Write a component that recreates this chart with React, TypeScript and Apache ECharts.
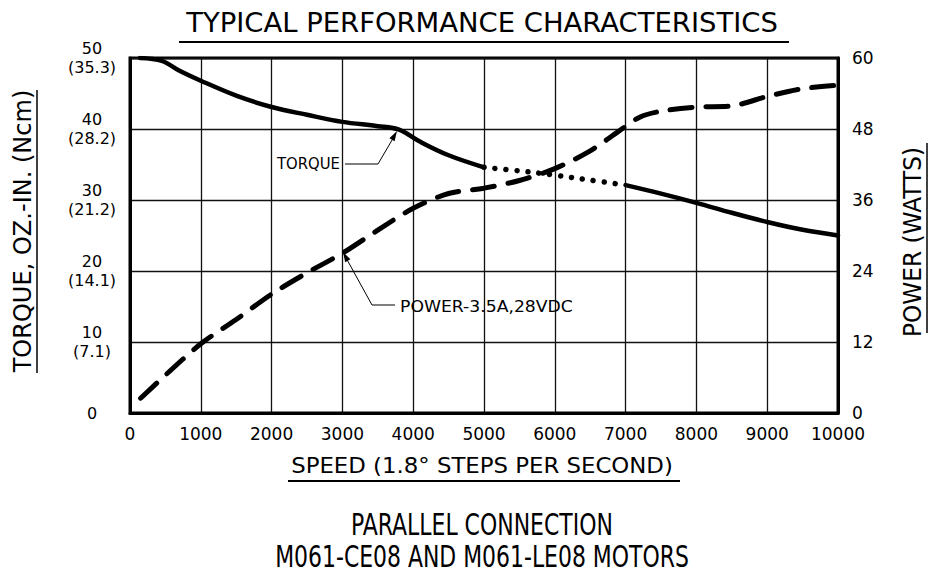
import React, { useEffect, useRef } from "react";
import * as echarts from "echarts";

// ---- data ----
const speedTicks = [0, 1000, 2000, 3000, 4000, 5000, 6000, 7000, 8000, 9000, 10000];
const torqueTicks = [0, 10, 20, 30, 40, 50];
const torqueNcmLabels = ["", "(7.1)", "(14.1)", "(21.2)", "(28.2)", "(35.3)"];
const powerTicks = [0, 12, 24, 36, 48, 60];

// torque (oz-in), solid part up to 5000
const torqueSpeedA = [140, 450, 700, 1000, 1500, 2000, 2500, 3000, 3500, 3800, 4100, 4500, 5000];
const torqueA = [50, 49.6, 48.2, 46.8, 44.7, 43.1, 42.0, 41.0, 40.4, 39.9, 38.2, 36.3, 34.6];
// torque, dotted part
const torqueSpeedB = [5000, 5500, 6000, 6500, 7000];
const torqueB = [34.6, 34.1, 33.5, 32.8, 32.1];
// torque, solid part after 7000
const torqueSpeedC = [7000, 7500, 8000, 8500, 9000, 9500, 10000];
const torqueC = [32.1, 30.9, 29.6, 28.2, 26.9, 25.8, 25.0];

// power (watts)
const powerSpeed = [150, 500, 1000, 1500, 2000, 2500, 3000, 3500, 4000, 4500, 5000, 5500, 6000, 6500, 6900, 7200, 7500, 8000, 8500, 9000, 9500, 10000];
const power = [2.5, 6.4, 11.7, 15.8, 20.1, 23.7, 27.0, 30.9, 34.6, 37.1, 38.0, 39.3, 41.3, 44.3, 47.6, 50.0, 51.0, 51.7, 51.9, 53.5, 54.8, 55.4];

const title = "TYPICAL PERFORMANCE CHARACTERISTICS";
const xName = "SPEED (1.8° STEPS PER SECOND)";
const yLeftName = "TORQUE, OZ.-IN. (Ncm)";
const yRightName = "POWER (WATTS)";
const footer1 = "PARALLEL CONNECTION";
const footer2 = "M061-CE08 AND M061-LE08 MOTORS";
const torqueLabel = "TORQUE";
const powerLabel = "POWER-3.5A,28VDC";

const zip = (xs: number[], ys: number[]) => xs.map((x, i) => [x, ys[i]]);

const SANS = "'DejaVu Sans', sans-serif";
const COND = "'DejaVu Sans Condensed', 'DejaVu Sans', sans-serif";

function measure(text: string, size: number, family: string, weight = "normal") {
  const c = document.createElement("canvas").getContext("2d")!;
  c.font = `${weight} ${size}px ${family}`;
  return c.measureText(text).width;
}

function fitText(
  text: string,
  size: number,
  family: string,
  target: number,
  x: number,
  y: number,
  opts: { rotation?: number; align?: string; weight?: string } = {}
) {
  const weight = opts.weight || "normal";
  const w = measure(text, size, family, weight);
  const align = opts.align || "center";
  return {
    type: "text",
    x,
    y,
    z: 100,
    rotation: opts.rotation || 0,
    scaleX: target / w,
    style: {
      text,
      fill: "#000",
      fontSize: size,
      fontFamily: family,
      fontWeight: weight,
      align,
      verticalAlign: "middle",
      textAlign: align,
      textVerticalAlign: "middle",
    },
  };
}

function line(x1: number, y1: number, x2: number, y2: number, w: number) {
  return {
    type: "line",
    z: 100,
    shape: { x1, y1, x2, y2 },
    style: { stroke: "#000", lineWidth: w },
  };
}

function arrowHead(tx: number, ty: number, fx: number, fy: number) {
  const dx = tx - fx;
  const dy = ty - fy;
  const L = Math.hypot(dx, dy);
  const ux = dx / L;
  const uy = dy / L;
  const bx = tx - ux * 10;
  const by = ty - uy * 10;
  const px = -uy * 3;
  const py = ux * 3;
  return {
    type: "polygon",
    z: 100,
    shape: { points: [[tx, ty], [bx + px, by + py], [bx - px, by - py]] },
    style: { fill: "#000" },
  };
}

export default function App() {
  const ref = useRef<HTMLDivElement>(null);

  useEffect(() => {
    if (!ref.current) return;
    const chart = echarts.init(ref.current, undefined, { renderer: "svg" });

    const graphic: any[] = [
      fitText(title, 26, SANS, 592, 482, 23),
      line(179, 42, 789, 42, 2),
      fitText(xName, 21, SANS, 382, 482, 466),
      line(288, 481, 680, 481, 2),
      fitText(footer1, 30, COND, 262, 482, 525),
      fitText(footer2, 30, COND, 414, 482, 557),
      fitText(yLeftName, 25, SANS, 283, 22, 231, { rotation: Math.PI / 2 }),
      line(37, 90, 37, 373, 1.5),
      fitText(yRightName, 25, SANS, 190, 913, 242, { rotation: Math.PI / 2 }),
      line(927, 143, 927, 333, 1.5),
      // torque annotation
      fitText(torqueLabel, 15, SANS, 63, 277, 164, { align: "left" }),
      { type: "polyline", z: 100, shape: { points: [[345, 164], [378, 164], [395, 135]] }, style: { stroke: "#000", lineWidth: 1, fill: null } },
      arrowHead(397, 131, 378, 164),
      // power annotation
      fitText(powerLabel, 16, SANS, 173, 400, 307, { align: "left" }),
      { type: "polyline", z: 100, shape: { points: [[395, 305], [372, 305], [345, 256]] }, style: { stroke: "#000", lineWidth: 1, fill: null } },
      arrowHead(343, 252, 372, 305),
    ];

    const option: any = {
      animation: false,
      backgroundColor: "#fff",
      grid: {
        left: 130,
        top: 58,
        width: 708,
        height: 355,
        show: true,
        borderColor: "#000",
        borderWidth: 3,
        backgroundColor: "transparent",
      },
      xAxis: {
        type: "value",
        min: speedTicks[0],
        max: speedTicks[speedTicks.length - 1],
        interval: 1000,
        axisLine: { show: true, lineStyle: { color: "#000", width: 3 } },
        axisTick: { show: false },
        splitLine: { show: true, lineStyle: { color: "#111", width: 1.3 } },
        axisLabel: {
          color: "#000",
          fontSize: 17,
          fontFamily: SANS,
          margin: 12,
          formatter: (v: number) => String(v),
        },
      },
      yAxis: [
        {
          type: "value",
          min: torqueTicks[0],
          max: torqueTicks[torqueTicks.length - 1],
          interval: 10,
          position: "left",
          axisLine: { show: true, lineStyle: { color: "#000", width: 3 } },
          axisTick: { show: false },
          splitLine: { show: true, lineStyle: { color: "#111", width: 1.3 } },
          axisLabel: {
            color: "#000",
            fontSize: 16,
            fontFamily: SANS,
            align: "center",
            margin: 38,
            lineHeight: 19,
            formatter: (v: number) => {
              const i = torqueTicks.indexOf(v);
              const n = i >= 0 ? torqueNcmLabels[i] : "";
              return n ? `${v}\n${n}` : `${v}`;
            },
          },
        },
        {
          type: "value",
          min: powerTicks[0],
          max: powerTicks[powerTicks.length - 1],
          interval: 12,
          position: "right",
          axisLine: { show: true, lineStyle: { color: "#000", width: 3 } },
          axisTick: { show: false },
          splitLine: { show: false },
          axisLabel: {
            color: "#000",
            fontSize: 17,
            lineHeight: 17,
            fontFamily: SANS,
            align: "left",
            margin: 14,
          },
        },
      ],
      series: [
        {
          type: "line",
          name: "Torque",
          yAxisIndex: 0,
          data: zip(torqueSpeedA, torqueA),
          smooth: 0.35,
          showSymbol: false,
          lineStyle: { color: "#000", width: 4.5, cap: "round" },
          z: 5,
        },
        {
          type: "line",
          name: "Torque (dotted)",
          yAxisIndex: 0,
          data: zip(torqueSpeedB, torqueB),
          smooth: 0.35,
          showSymbol: false,
          lineStyle: { color: "#000", width: 5.5, type: [0.01, 11], cap: "round" },
          z: 5,
        },
        {
          type: "line",
          name: "Torque (high speed)",
          yAxisIndex: 0,
          data: zip(torqueSpeedC, torqueC),
          smooth: 0.35,
          showSymbol: false,
          lineStyle: { color: "#000", width: 4.5, cap: "round" },
          z: 5,
        },
        {
          type: "line",
          name: "Power",
          yAxisIndex: 1,
          data: zip(powerSpeed, power),
          smooth: 0.3,
          showSymbol: false,
          lineStyle: { color: "#000", width: 5, type: [22, 14], cap: "round" },
          z: 6,
        },
      ],
      graphic,
    };

    chart.setOption(option);
    return () => chart.dispose();
  }, []);

  return (
    <div
      ref={ref}
      style={{ position: "absolute", left: 0, top: 0, width: 930, height: 575, background: "#fff" }}
    />
  );
}
